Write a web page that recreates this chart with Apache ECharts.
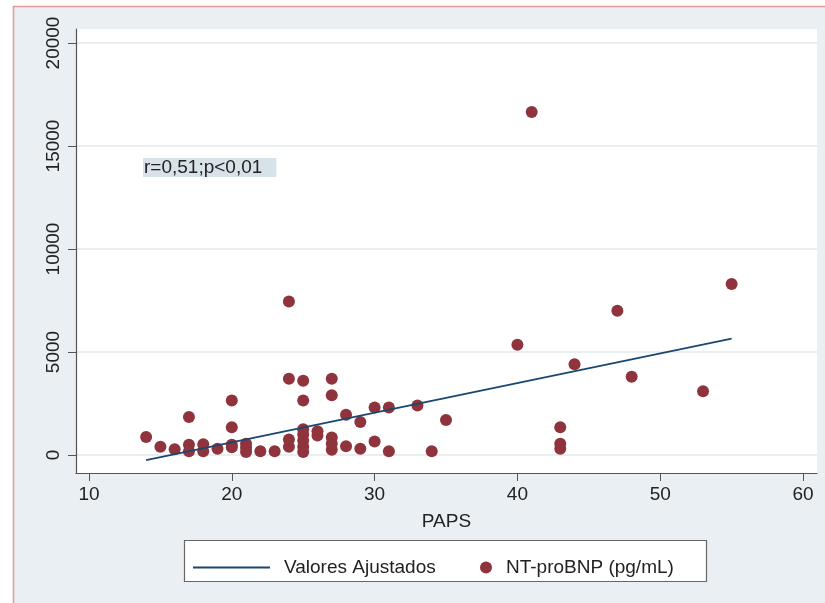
<!DOCTYPE html>
<html>
<head>
<meta charset="utf-8">
<script src="https://cdn.jsdelivr.net/npm/echarts@6/dist/echarts.min.js"></script>
<style>
  html, body { margin: 0; padding: 0; background: #fff; }
  #chart { width: 825px; height: 603px; }
</style>
</head>
<body>
<div id="chart"></div>
<script>
// PAPS vs NT-proBNP
const papsValues = [
  14, 15, 16, 17, 17, 17, 18, 18, 19,
  20, 20, 20, 20, 21, 21, 21, 22, 23,
  24, 24, 24, 24, 25, 25, 25, 25, 25, 25, 25,
  26, 26, 27, 27, 27, 27, 27, 28, 28, 29, 29,
  30, 30, 31, 31, 33, 34, 35,
  40, 41, 43, 43, 43, 44, 47, 48, 53, 55
];
const bnpValues = [
  870, 400, 280, 1850, 500, 180, 520, 180, 300,
  2650, 1350, 500, 380, 550, 350, 150, 180, 180,
  7450, 3700, 750, 400, 3600, 2650, 1250, 1000, 700, 400, 150,
  1150, 950, 3700, 2900, 850, 550, 250, 1950, 420, 1600, 300,
  2300, 650, 2300, 180, 2400, 180, 1700,
  5350, 16650, 1350, 550, 300, 4400, 7000, 3800, 3100, 8300
];
// fitted values (ends of the regression line)
const fitX = [14, 55];
const fitY = [-250, 5650];

const xTicks = [10, 20, 30, 40, 50, 60];
const yTicks = [0, 5000, 10000, 15000, 20000];
const annotation = "r=0,51;p<0,01";

const fontFam = "Liberation Sans, Arial, sans-serif";
const chartObj = echarts.init(document.getElementById("chart"));

let scatterData = [];
for (let i = 0; i < papsValues.length; i++) {
  scatterData.push([papsValues[i], bnpValues[i]]);
}
let fitData = [];
for (let i = 0; i < fitX.length; i++) {
  fitData.push([fitX[i], fitY[i]]);
}

let option = {
  backgroundColor: "#fff",
  animation: false,
  grid: {
    show: true,
    left: 76,
    right: 8,
    top: 29,
    bottom: 130,
    backgroundColor: "#fff",
    borderWidth: 0,
  },
  graphic: [
    {
      type: "rect",
      z: -10,
      shape: { x: 13.5, y: 6.5, width: 830, height: 610 },
      style: { fill: "#e9eff2", stroke: "#e39a9a", lineWidth: 1.5 },
    },
    {
      type: "rect",
      z: 5,
      shape: { x: 184.5, y: 540.5, width: 522, height: 41 },
      style: { fill: "#fff", stroke: "#666", lineWidth: 1.2 },
    },
    {
      type: "text",
      z: 50,
      style: {
        text: annotation,
        x: 143,
        y: 158,
        font: "19px " + fontFam,
        fill: "#222",
        backgroundColor: "#d8e3e9",
        padding: [0, 14, 0, 1],
      },
    },
  ],
  legend: [
    {
      data: [{ name: "Valores Ajustados", icon: "rect" }],
      left: 188,
      top: 553,
      itemWidth: 77,
      itemHeight: 2,
      selectedMode: false,
      z: 10,
      textStyle: { fontSize: 19, color: "#222", fontFamily: fontFam, padding: [0, 0, 0, 9] },
    },
    {
      data: [{ name: "NT-proBNP (pg/mL)", icon: "circle" }],
      left: 475,
      top: 553,
      itemWidth: 12,
      itemHeight: 12,
      selectedMode: false,
      z: 10,
      textStyle: { fontSize: 19, color: "#222", fontFamily: fontFam, padding: [0, 0, 0, 9] },
    },
  ],
  xAxis: {
    type: "value",
    min: 9.09,
    max: 60.98,
    name: "PAPS",
    nameLocation: "middle",
    nameGap: 39,
    nameTextStyle: { fontSize: 19, color: "#222", fontFamily: fontFam },
    axisLine: { show: true, onZero: false, lineStyle: { color: "#555", width: 1.2 } },
    axisTick: { show: true, length: 8, customValues: xTicks, lineStyle: { color: "#555" } },
    axisLabel: {
      customValues: xTicks,
      margin: 12,
      fontSize: 19,
      color: "#222",
      fontFamily: fontFam,
    },
    splitLine: { show: false },
  },
  yAxis: {
    type: "value",
    min: -874,
    max: 20680,
    axisLine: { show: true, onZero: false, lineStyle: { color: "#555", width: 1.2 } },
    axisTick: { show: true, length: 8, customValues: yTicks, lineStyle: { color: "#555" } },
    axisLabel: {
      customValues: yTicks,
      rotate: 90,
      margin: 13,
      fontSize: 19,
      color: "#222",
      fontFamily: fontFam,
      formatter: function (v) { return String(v); },
    },
    splitLine: { show: true, lineStyle: { color: "#e0e9ee", width: 1.5 } },
  },
  series: [
    {
      name: "Valores Ajustados",
      type: "line",
      data: fitData,
      symbol: "none",
      z: 3,
      lineStyle: { color: "#1a476f", width: 1.6 },
      itemStyle: { color: "#1a476f" },
    },
    {
      name: "NT-proBNP (pg/mL)",
      type: "scatter",
      data: scatterData,
      symbol: "circle",
      symbolSize: 12,
      z: 2,
      itemStyle: { color: "#8f343c", opacity: 1 },
    },
  ],
};

chartObj.setOption(option);
</script>
</body>
</html>
